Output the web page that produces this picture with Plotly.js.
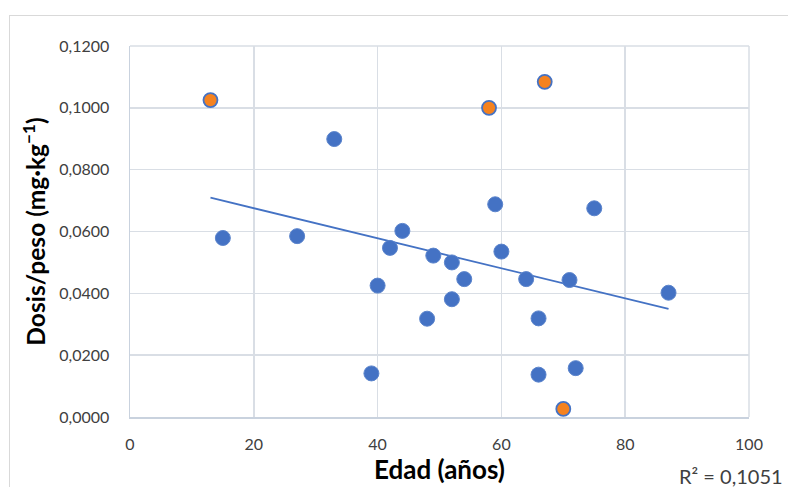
<!DOCTYPE html>
<html>
<head>
<meta charset="utf-8">
<script src="https://cdn.plot.ly/plotly-3.0.1.min.js"></script>
<style>
  html, body { margin: 0; padding: 0; background: #ffffff; }
  #wrap { position: relative; width: 788px; height: 487px; overflow: hidden; }
  #frame { position: absolute; left: 9px; top: 15px; width: 800px; height: 500px;
           border-left: 1px solid #d9d9d9; border-top: 1px solid #d9d9d9; pointer-events: none; }
  #chart { position: absolute; left: 0; top: 0; width: 788px; height: 487px; }
</style>
</head>
<body>
<div id="wrap">
  <div id="frame"></div>
  <div id="chart"></div>
</div>
<script>
// Data
var edadAzul  = [15, 27, 33, 42, 44, 40, 39, 48, 49, 52, 52, 54, 59, 60, 64, 66, 66, 71, 72, 75, 87];
var dosisAzul = [0.0579, 0.0585, 0.0899, 0.0547, 0.0602, 0.0425, 0.0141, 0.0318, 0.0522, 0.0500, 0.0381,
                 0.0446, 0.0688, 0.0535, 0.0446, 0.0319, 0.0137, 0.0443, 0.0158, 0.0675, 0.0402];
var edadNaranja  = [13, 58, 67, 70];
var dosisNaranja = [0.1025, 0.1000, 0.1084, 0.0026];
var xTicks = [0, 20, 40, 60, 80, 100];
var yTicks = [0, 0.02, 0.04, 0.06, 0.08, 0.10, 0.12];
var r2Label = "R² = 0,1051";

// Linear trendline (least squares over all points)
var allX = edadAzul.concat(edadNaranja);
var allY = dosisAzul.concat(dosisNaranja);
var n = allX.length, mx = 0, my = 0;
for (var i = 0; i < n; i++) { mx += allX[i]; my += allY[i]; }
mx /= n; my /= n;
var sxy = 0, sxx = 0;
for (var i = 0; i < n; i++) { sxy += (allX[i]-mx)*(allY[i]-my); sxx += (allX[i]-mx)*(allX[i]-mx); }
var slope = sxy / sxx, icpt = my - slope*mx;
var xmin = Math.min.apply(null, allX), xmax = Math.max.apply(null, allX);
var trendX = [xmin, xmax];
var trendY = [icpt + slope*xmin, icpt + slope*xmax];

var blue = '#4472C4', orange = '#F5821F';
var traces = [
  { x: trendX, y: trendY, mode: 'lines', type: 'scatter',
    line: { color: blue, width: 1.8 }, hoverinfo: 'skip' },
  { x: edadAzul, y: dosisAzul, mode: 'markers', type: 'scatter',
    marker: { color: blue, size: 15, line: { color: '#5b84cc', width: 1 } } },
  { x: edadNaranja, y: dosisNaranja, mode: 'markers', type: 'scatter',
    marker: { color: orange, size: 14, line: { color: blue, width: 1.8 } } }
];

var fam = 'Lato, "Open Sans", sans-serif';
var tickFont = { family: fam, size: 16, color: '#404040' };

var layout = {
  width: 788, height: 487,
  margin: { l: 130, r: 39, t: 46, b: 70 },
  paper_bgcolor: 'rgba(0,0,0,0)', plot_bgcolor: '#ffffff',
  showlegend: false,
  separators: ',.',
  xaxis: {
    range: [0, 100], tickvals: xTicks, tickformat: 'd',
    showgrid: true, gridcolor: '#d9dee5', gridwidth: 1.5,
    zeroline: false, showline: true, linecolor: '#c9d2de', linewidth: 1.5, mirror: false,
    ticks: 'outside', ticklen: 12, tickcolor: 'rgba(0,0,0,0)',
    tickfont: tickFont,
    title: { text: '<b>Edad (años)</b>', font: { family: fam, size: 26, color: '#000000', weight: 'bold' }, standoff: 5 },
    fixedrange: true
  },
  yaxis: {
    range: [0, 0.12], tickvals: yTicks, tickformat: '.4f',
    showgrid: true, gridcolor: '#d9dee5', gridwidth: 1.5,
    zeroline: false, showline: true, linecolor: '#c9d2de', linewidth: 1.5,
    ticks: 'outside', ticklen: 16, tickcolor: 'rgba(0,0,0,0)',
    tickfont: tickFont,
    title: { text: '<b>Dosis/peso (mg·kg<sup>−1</sup>)</b>', font: { family: fam, size: 24.5, color: '#000000', weight: 'bold' }, standoff: 6 },
    fixedrange: true
  },
  shapes: [
    { type: 'line', xref: 'paper', yref: 'paper', x0: 1, x1: 1, y0: 0, y1: 1,
      line: { color: '#d9dee5', width: 1.5 } },
    { type: 'line', xref: 'paper', yref: 'paper', x0: 0, x1: 1, y0: 1, y1: 1,
      line: { color: '#d9dee5', width: 1.5 } }
  ],
  annotations: [
    { text: r2Label, xref: 'paper', yref: 'paper', x: 1.058, y: -0.16,
      xanchor: 'right', yanchor: 'middle', showarrow: false,
      font: { family: fam, size: 20, color: '#404040' } }
  ]
};

Plotly.newPlot('chart', traces, layout, { displayModeBar: false, staticPlot: true });
</script>
</body>
</html>
